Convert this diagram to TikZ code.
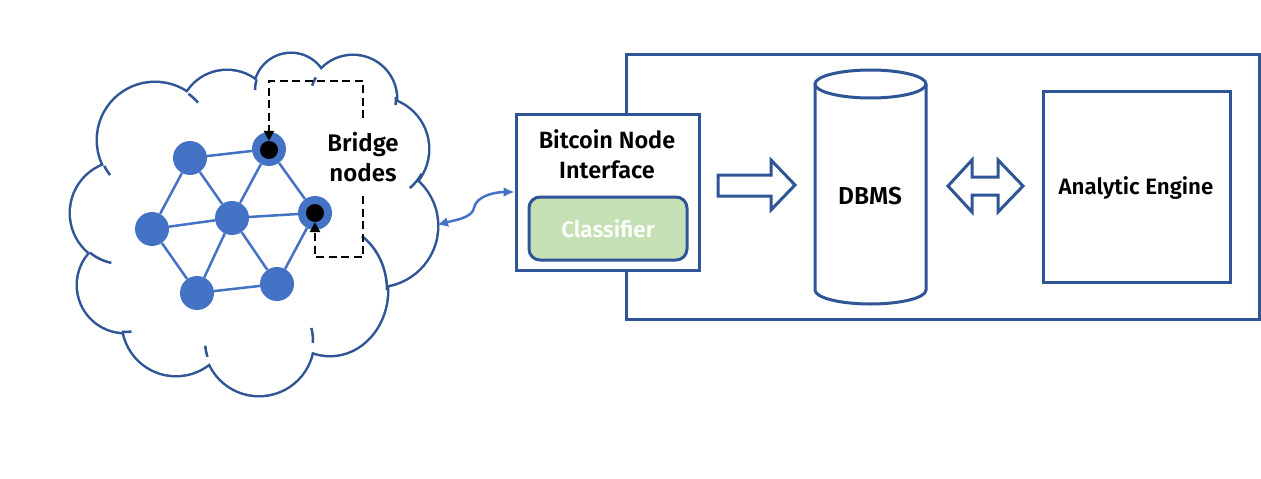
\documentclass[tikz,border=0pt]{standalone}
\usepackage{fontspec}
\setmainfont{Fira Sans}[BoldFont={Fira Sans SemiBold}]
\usetikzlibrary{shapes.geometric,arrows.meta}
\definecolor{dblue}{HTML}{2F5597}
\definecolor{nblue}{HTML}{4472C4}
\definecolor{cgreen}{HTML}{C5E0B4}
\tikzset{
  frame/.style={draw=dblue,line width=3pt},
  netnode/.style={circle,fill=nblue,minimum size=34pt,inner sep=0pt},
  bdot/.style={circle,fill=black,minimum size=18pt,inner sep=0pt},
  netedge/.style={nblue,line width=2.5pt},
  dashline/.style={black,line width=2.6pt,dash pattern=on 8pt off 4.5pt},
  lbl/.style={font=\bfseries\fontsize{23.5}{30}\selectfont,align=center},
  stub/.style={dblue,line width=2.5pt},
}
\begin{document}
\begin{tikzpicture}[x=1pt,y=-1pt]
\useasboundingbox[fill=white] (0,0) rectangle (1261,479);
% cloud: union of lobes
\def\lobes{(155,140) circle[radius=57pt] (227,118) circle[radius=47pt]
  (291,90) circle[radius=36pt] (353,99) circle[radius=43pt]
  (377,149) circle[radius=51pt] (377,226) circle[radius=60pt]
  (330,290) ellipse[x radius=57pt,y radius=65pt] (259,341) circle[radius=54pt]
  (176,322) circle[radius=53pt] (125,285) circle[radius=47pt]
  (122,213) circle[radius=51pt]}
\draw[dblue,line width=5pt] \lobes;
\fill[white] \lobes;
\fill[white] (155,140) -- (227,118) -- (291,90) -- (353,99) -- (377,149) -- (377,226) -- (330,290) -- (259,341) -- (176,322) -- (125,285) -- (122,213) -- cycle;
% inner arc ends of the cloud outline
\draw[stub] (155,140) ++(207:57pt) arc[start angle=207,end angle=218,radius=57pt];
\draw[stub] (155,140) ++(54:57pt) arc[start angle=54,end angle=41,radius=57pt];
\draw[stub] (291,90) ++(163:36pt) arc[start angle=163,end angle=180,radius=36pt];
\draw[stub] (353,99) ++(150:43pt) arc[start angle=150,end angle=162,radius=43pt];
\draw[stub] (353,99) ++(3:43pt) arc[start angle=3,end angle=-8,radius=43pt];
\draw[stub] (377,149) ++(-29:51pt) arc[start angle=-29,end angle=-50,radius=51pt];
\draw[stub] (330,290) ++(56:57pt and 65pt) arc[start angle=56,end angle=0,x radius=57pt,y radius=65pt];
\draw[stub] (259,341) ++(-2:54pt) arc[start angle=-2,end angle=14,radius=54pt];
\draw[stub] (259,341) ++(197:54pt) arc[start angle=197,end angle=185,radius=54pt];
\draw[stub] (125,285) ++(-94:47pt) arc[start angle=-94,end angle=-82,radius=47pt];
\draw[stub] (122,213) ++(231:51pt) arc[start angle=231,end angle=258,radius=51pt];
\coordinate (cloud) at (253,239);
% network
\node[netnode] (A) at (190,158) {};
\node[netnode] (B) at (269,149) {};
\node[netnode] (C) at (152,229) {};
\node[netnode] (D) at (232,218) {};
\node[netnode] (E) at (315,213) {};
\node[netnode] (F) at (197,293) {};
\node[netnode] (G) at (277,284) {};
\foreach \u/\v in {A/B,A/D,A/C,B/D,B/E,C/D,C/F,D/E,D/F,D/G,E/G,F/G}
  \draw[netedge] (\u) -- (\v);
\node[bdot] (Bd) at (269,150) {};
\node[bdot] (Ed) at (315,213) {};
% bridge label and dashed arrows
\node[lbl,font=\bfseries\fontsize{24}{30}\selectfont] (bridge) at (363,157) {Bridge\\nodes};
\coordinate (t1) at (363,118);
\coordinate (t2) at (363,81);
\coordinate (t3) at (269,81);
\coordinate (b1) at (363,196);
\coordinate (b2) at (363,257);
\coordinate (b3) at (315,257);
\draw[dashline,-{Triangle[length=10pt,width=10pt]}] (t1) -- (t2) -- (t3) -- (Bd.north);
\draw[dashline,-{Triangle[length=10pt,width=10pt]}] (b1) -- (b2) -- (b3) -- (Ed.south);
% outer system frame
\draw[frame] (626,54) rectangle (1259,319);
% interface box
\node[frame,fill=white,minimum width=183pt,minimum height=156pt,inner sep=0pt] (iface) at (607.5,192) {};
\node[lbl] (ifacelbl) at (607,154) {Bitcoin Node\\Interface};
\node[draw=dblue,line width=3pt,fill=cgreen,rounded corners=11pt,minimum width=158pt,minimum height=63pt,text=white,font=\bfseries\fontsize{22.4}{26}\selectfont] (classifier) at (608,228.5) {Classifier};
% cloud to interface connector
\coordinate (cl) at (437,225);
\draw[nblue,line width=2.5pt,{Latex[length=11pt,width=10pt]}-{Latex[length=11pt,width=10pt]}] (cl) .. controls (455,220) and (472,218) .. (474,208) .. controls (476,196) and (495,192) .. (iface.west);
% DBMS cylinder
\draw[frame,fill=white] (815,84) -- (815,290) arc[start angle=180,end angle=360,x radius=55.5pt,y radius=14pt] -- (926,84);
\draw[frame] (870.5,84) ellipse[x radius=55.5pt,y radius=14pt];
\node[lbl,font=\bfseries\fontsize{24.5}{30}\selectfont] (dbms) at (870,196) {DBMS};
% analytic engine
\node[frame,minimum width=187pt,minimum height=191pt,inner sep=0pt] (engine) at (1136.5,186.5) {};
\node[lbl,font=\bfseries\fontsize{22.3}{30}\selectfont] (englbl) at (1136,188) {Analytic Engine};
% block arrows
\draw[frame,line join=miter] (718,175) -- (771,175) -- (771,160) -- (795,185) -- (771,210) -- (771,196) -- (718,196) -- cycle;
\draw[frame,line join=miter] (948,186) -- (972,160) -- (972,177) -- (998,177) -- (998,160) -- (1023,186) -- (998,212) -- (998,195) -- (972,195) -- (972,212) -- cycle;
\end{tikzpicture}
\end{document}
